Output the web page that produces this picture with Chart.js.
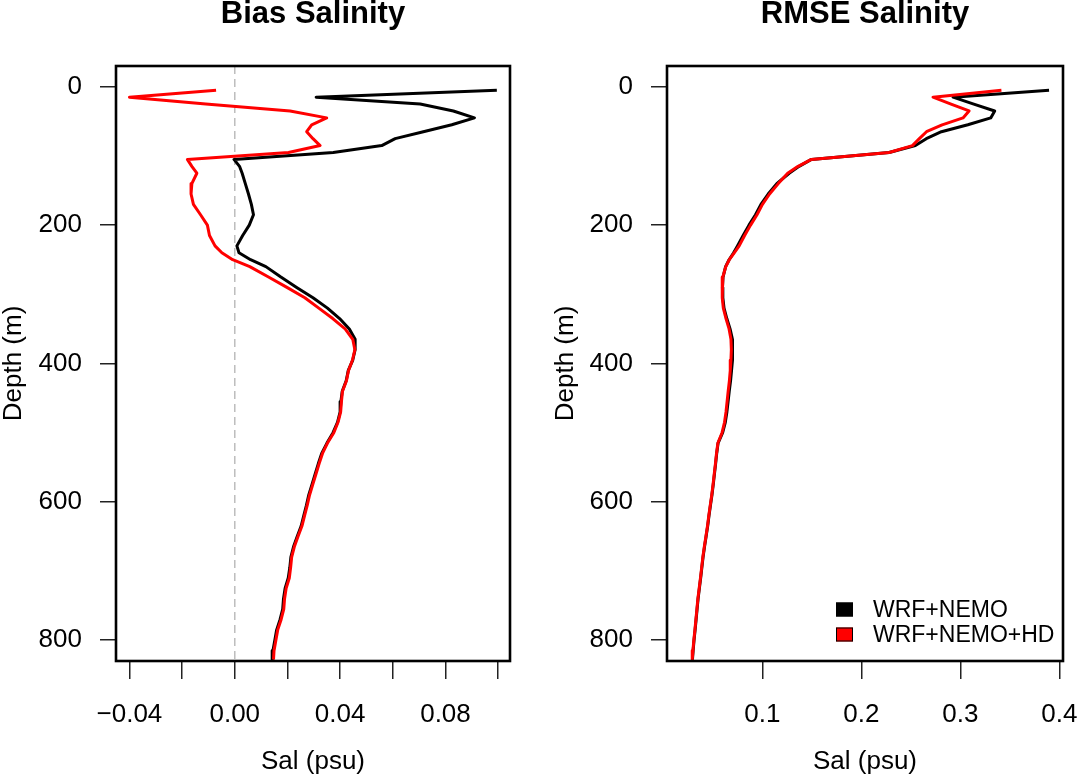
<!DOCTYPE html>
<html>
<head>
<meta charset="utf-8">
<title>Bias and RMSE Salinity</title>
<script src="https://cdn.jsdelivr.net/npm/chart.js@4.4.0/dist/chart.umd.min.js"></script>
<style>
  html, body { margin: 0; padding: 0; background: #fff; }
  #wrap { position: relative; width: 1079px; height: 779px; }
  canvas { position: absolute; top: 0; }
  #biasChart { left: 0; }
  #rmseChart { left: 540px; }
</style>
</head>
<body>
<div id="wrap">
  <canvas id="biasChart" width="540" height="779"></canvas>
  <canvas id="rmseChart" width="539" height="779"></canvas>
</div>
<script>
// --- Data (depth in m, salinity in psu) ---
const depths = [
  5, 15, 25, 35, 45, 55, 65, 75, 85, 95,
  105, 115, 125, 140, 155, 170, 185, 200, 215, 230,
  240, 250, 260, 275, 290, 305, 320, 335, 350, 365,
  380, 395, 410, 425, 440, 455, 470, 485, 500, 515,
  530, 545, 560, 575, 590, 605, 620, 635, 650, 665,
  680, 695, 710, 725, 740, 755, 770, 785, 800, 815,
  828
];

const biasNemo = [
  0.0995, 0.0309, 0.0704, 0.0830, 0.0910, 0.0824, 0.0716, 0.0609, 0.0558, 0.0374,
  -0.0003, 0.0018, 0.0028, 0.0040, 0.0052, 0.0063, 0.0071, 0.0055, 0.0030, 0.0008,
  0.0016, 0.0060, 0.0118, 0.0175, 0.0235, 0.0297, 0.0352, 0.0398, 0.0435, 0.0457,
  0.0457, 0.0448, 0.0431, 0.0423, 0.0408, 0.0403, 0.0400, 0.0390, 0.0373, 0.0350,
  0.0330, 0.0317, 0.0305, 0.0293, 0.0281, 0.0272, 0.0262, 0.0252, 0.0237, 0.0223,
  0.0213, 0.0209, 0.0203, 0.0191, 0.0185, 0.0182, 0.0172, 0.0159, 0.0152, 0.0145,
  0.0142
];

const biasNemoHd = [
  -0.0071, -0.0400, -0.0110, 0.0210, 0.0349, 0.0292, 0.0273, 0.0297, 0.0324, 0.0204,
  -0.0180, -0.0163, -0.0144, -0.0163, -0.0166, -0.0157, -0.0130, -0.0104, -0.0096, -0.0075,
  -0.0049, -0.0008, 0.0057, 0.0128, 0.0198, 0.0266, 0.0319, 0.0372, 0.0419, 0.0448,
  0.0456, 0.0447, 0.0432, 0.0424, 0.0409, 0.0405, 0.0402, 0.0392, 0.0376, 0.0352,
  0.0333, 0.0320, 0.0308, 0.0296, 0.0284, 0.0275, 0.0265, 0.0255, 0.0240, 0.0226,
  0.0216, 0.0212, 0.0207, 0.0195, 0.0189, 0.0186, 0.0176, 0.0163, 0.0156, 0.0149,
  0.0147
];

const rmseNemo = [
  0.3895, 0.2925, 0.3135, 0.3346, 0.3306, 0.3075, 0.2808, 0.2655, 0.2545, 0.2280,
  0.1495, 0.1370, 0.1270, 0.1145, 0.1058, 0.0985, 0.0930, 0.0864, 0.0805, 0.0748,
  0.0709, 0.0663, 0.0628, 0.0602, 0.0596, 0.0600, 0.0612, 0.0640, 0.0673, 0.0697,
  0.0700, 0.0695, 0.0688, 0.0678, 0.0665, 0.0653, 0.0641, 0.0625, 0.0598, 0.0552,
  0.0538, 0.0527, 0.0515, 0.0503, 0.0490, 0.0475, 0.0460, 0.0447, 0.0431, 0.0415,
  0.0400, 0.0388, 0.0376, 0.0363, 0.0350, 0.0340, 0.0330, 0.0320, 0.0309, 0.0300,
  0.0293
];

const rmseNemoHd = [
  0.3414, 0.2723, 0.2905, 0.3087, 0.3026, 0.2815, 0.2657, 0.2585, 0.2515, 0.2280,
  0.1495, 0.1360, 0.1255, 0.1160, 0.1072, 0.1000, 0.0945, 0.0880, 0.0820, 0.0765,
  0.0715, 0.0665, 0.0630, 0.0600, 0.0592, 0.0596, 0.0605, 0.0632, 0.0663, 0.0682,
  0.0686, 0.0682, 0.0675, 0.0666, 0.0654, 0.0643, 0.0632, 0.0617, 0.0592, 0.0550,
  0.0536, 0.0525, 0.0513, 0.0501, 0.0488, 0.0473, 0.0458, 0.0445, 0.0429, 0.0413,
  0.0398, 0.0386, 0.0374, 0.0361, 0.0348, 0.0338, 0.0328, 0.0318, 0.0307, 0.0298,
  0.0291
];

const seriesLabels = ['WRF+NEMO', 'WRF+NEMO+HD'];
const seriesColors = ['#000000', '#ff0000'];

const depthTicks = [0, 200, 400, 600, 800];
const biasTicks = [-0.04, -0.02, 0, 0.02, 0.04, 0.06, 0.08, 0.10];
const biasTickLabels = ['\u22120.04', '', '0.00', '', '0.04', '', '0.08', ''];
const rmseTicks = [0.1, 0.2, 0.3, 0.4];
const rmseTickLabels = ['0.1', '0.2', '0.3', '0.4'];

const depthMin = -30;
const depthMax = 830;

const FONT = "'Liberation Sans', Arial, Helvetica, sans-serif";

// --- Plugins ---
// R style box round the plot region
const plotBox = {
    id: 'plotBox',
    afterDraw(chart) {
        const { ctx, chartArea } = chart;
        ctx.save();
        ctx.strokeStyle = '#000';
        ctx.lineWidth = 2.6;
        ctx.strokeRect(chartArea.left, chartArea.top, chartArea.right - chartArea.left, chartArea.bottom - chartArea.top);
        ctx.restore();
    }
};

// Legend in the bottom right corner, no frame
const cornerLegend = {
    id: 'cornerLegend',
    afterDatasetsDraw(chart, args, opts) {
        if (!opts.show) return;
        const { ctx, chartArea } = chart;
        const items = chart.data.datasets.filter(ds => seriesLabels.includes(ds.label));
        ctx.save();
        ctx.font = '23px ' + FONT;
        ctx.textAlign = 'left';
        ctx.textBaseline = 'middle';
        items.forEach((ds, i) => {
            const cy = chartArea.bottom - 51.5 + i * 25;
            const bx = chartArea.right - 227;
            ctx.fillStyle = ds.borderColor;
            ctx.fillRect(bx, cy - 7, 17, 14);
            ctx.strokeStyle = '#000';
            ctx.lineWidth = 1;
            ctx.strokeRect(bx + 0.5, cy - 6.5, 16, 13);
            ctx.fillStyle = '#000';
            ctx.fillText(ds.label, chartArea.right - 190, cy + 1);
        });
        ctx.restore();
    }
};

function profile(values) {
    return values.map((v, i) => ({ x: v, y: depths[i] }));
}

function lineSet(label, color, values, order) {
    return {
        label: label,
        data: profile(values),
        borderColor: color,
        backgroundColor: color,
        borderWidth: 3,
        pointRadius: 0,
        tension: 0,
        borderJoinStyle: 'round',
        order: order
    };
}

function makeChart(canvasId, cfg) {
    const datasets = [
        lineSet(seriesLabels[0], seriesColors[0], cfg.nemo, 2),
        lineSet(seriesLabels[1], seriesColors[1], cfg.hd, 1)
    ];
    if (cfg.zeroLine) {
        datasets.push({
            label: 'zero',
            data: [{ x: 0, y: depthMin }, { x: 0, y: depthMax }],
            borderColor: '#bdbdbd',
            borderWidth: 1.5,
            borderDash: [8, 5],
            pointRadius: 0,
            order: 3
        });
    }

    return new Chart(document.getElementById(canvasId), {
        type: 'line',
        data: { datasets: datasets },
        options: {
            responsive: false,
            animation: false,
            layout: { padding: { left: 0, right: cfg.rightPad, top: 0, bottom: 0 } },
            plugins: {
                legend: { display: false },
                tooltip: { enabled: false },
                cornerLegend: { show: cfg.legend },
                title: {
                    display: true,
                    text: cfg.title,
                    fullSize: false,
                    color: '#000',
                    font: { family: FONT, size: 31, weight: 'bold', lineHeight: 1 },
                    padding: { top: -1, bottom: 36 }
                }
            },
            scales: {
                x: {
                    type: 'linear',
                    position: 'bottom',
                    min: cfg.xMin,
                    max: cfg.xMax,
                    afterBuildTicks: axis => { axis.ticks = cfg.xTicks.map(v => ({ value: v })); },
                    afterFit: scale => {
                        scale.height = 118;
                        scale.paddingLeft = 0;
                        scale.paddingRight = 0;
                    },
                    ticks: {
                        autoSkip: false,
                        maxRotation: 0,
                        padding: 20,
                        color: '#000',
                        font: { family: FONT, size: 26 },
                        callback: (value, index) => cfg.xLabels[index]
                    },
                    grid: {
                        drawOnChartArea: false,
                        drawTicks: true,
                        tickLength: 18,
                        color: '#222',
                        lineWidth: 1.5
                    },
                    border: { display: false },
                    title: {
                        display: true,
                        text: 'Sal (psu)',
                        color: '#000',
                        font: { family: FONT, size: 26 },
                        padding: { top: 0, bottom: 2 }
                    }
                },
                y: {
                    type: 'linear',
                    position: 'left',
                    reverse: true,
                    min: depthMin,
                    max: depthMax,
                    afterBuildTicks: axis => { axis.ticks = depthTicks.map(v => ({ value: v })); },
                    afterFit: scale => {
                        scale.width = cfg.yWidth;
                        scale.paddingTop = 0;
                        scale.paddingBottom = 0;
                    },
                    ticks: {
                        autoSkip: false,
                        padding: 18,
                        color: '#000',
                        font: { family: FONT, size: 26 }
                    },
                    grid: {
                        drawOnChartArea: false,
                        drawTicks: true,
                        tickLength: 16,
                        color: '#222',
                        lineWidth: 1.5
                    },
                    border: { display: false },
                    title: {
                        display: true,
                        text: 'Depth (m)',
                        color: '#000',
                        font: { family: FONT, size: 26, lineHeight: 1.1 },
                        padding: { top: cfg.yTitlePad, bottom: 0 }
                    }
                }
            }
        },
        plugins: [plotBox, cornerLegend]
    });
}

makeChart('biasChart', {
    title: 'Bias Salinity',
    nemo: biasNemo,
    hd: biasNemoHd,
    zeroLine: true,
    legend: false,
    xMin: -0.0451,
    xMax: 0.1045,
    xTicks: biasTicks,
    xLabels: biasTickLabels,
    yWidth: 116,
    yTitlePad: 0,
    rightPad: 30
});

makeChart('rmseChart', {
    title: 'RMSE Salinity',
    nemo: rmseNemo,
    hd: rmseNemoHd,
    zeroLine: false,
    legend: true,
    xMin: 0.0036,
    xMax: 0.4036,
    xTicks: rmseTicks,
    xLabels: rmseTickLabels,
    yWidth: 127,
    yTitlePad: 12,
    rightPad: 16
});
</script>
</body>
</html>
